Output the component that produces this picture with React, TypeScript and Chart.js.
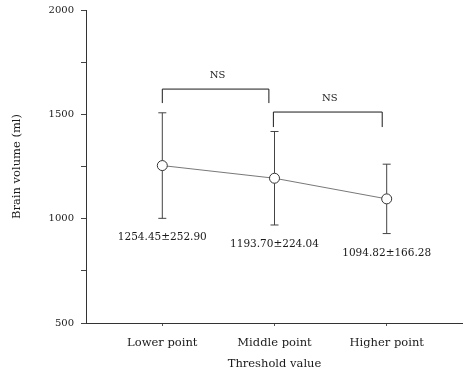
import React, { useEffect, useRef } from "react";
import { Chart, registerables } from "chart.js";

Chart.register(...registerables);

const categories = ["Lower point", "Middle point", "Higher point"];
const means = [1254.45, 1193.7, 1094.82];
const sds = [252.9, 224.04, 166.28];
const yTickLabels = [500, 1000, 1500, 2000];
const brackets = [
  { from: 0, to: 0.95, top: 1621, drop: 1554, label: "NS" },
  { from: 0.99, to: 1.96, top: 1511, drop: 1439, label: "NS" },
];

const SERIF = "'DejaVu Serif', 'Liberation Serif', serif";
const INK = "#1a1a1a";

const overlay = {
  id: "overlay",
  afterDatasetsDraw(chart: any) {
    const { ctx } = chart;
    const xs = chart.scales.x;
    const ys = chart.scales.y;
    ctx.save();
    ctx.strokeStyle = "#444";
    ctx.lineWidth = 1;
    means.forEach((m, i) => {
      const x = xs.getPixelForValue(i);
      const yt = ys.getPixelForValue(m + sds[i]);
      const yb = ys.getPixelForValue(m - sds[i]);
      const yc = ys.getPixelForValue(m);
      ctx.beginPath();
      ctx.moveTo(x, yt);
      ctx.lineTo(x, yc - 5);
      ctx.moveTo(x, yc + 5);
      ctx.lineTo(x, yb);
      ctx.moveTo(x - 4, yt);
      ctx.lineTo(x + 4, yt);
      ctx.moveTo(x - 4, yb);
      ctx.lineTo(x + 4, yb);
      ctx.stroke();
      ctx.fillStyle = INK;
      ctx.font = "10.5px " + SERIF;
      ctx.textAlign = "center";
      ctx.textBaseline = "top";
      ctx.fillText(m.toFixed(2) + "\u00B1" + sds[i].toFixed(2), x, yb + 14);
    });
    ctx.strokeStyle = INK;
    brackets.forEach((b) => {
      const x1 = xs.getPixelForValue(b.from);
      const x2 = xs.getPixelForValue(b.to);
      const yt = ys.getPixelForValue(b.top);
      const yd = ys.getPixelForValue(b.drop);
      ctx.beginPath();
      ctx.moveTo(x1, yd);
      ctx.lineTo(x1, yt);
      ctx.lineTo(x2, yt);
      ctx.lineTo(x2, yd);
      ctx.stroke();
      ctx.fillStyle = INK;
      ctx.font = "10px " + SERIF;
      ctx.textAlign = "center";
      ctx.textBaseline = "middle";
      ctx.fillText(b.label, (x1 + x2) / 2 + 2, yt - 14);
    });
    ctx.restore();
  },
};

export default function App() {
  const ref = useRef<HTMLCanvasElement | null>(null);
  useEffect(() => {
    if (!ref.current) return;
    const chart = new Chart(ref.current, {
      type: "line",
      data: {
        datasets: [
          {
            data: means.map((m, i) => ({ x: i, y: m })),
            borderColor: "#555",
            borderWidth: 0.8,
            pointRadius: 5,
            pointBackgroundColor: "#fff",
            pointBorderColor: "#333",
            pointBorderWidth: 1,
            tension: 0,
          },
        ],
      },
      options: {
        animation: false,
        responsive: false,
        devicePixelRatio: 1,
        layout: { autoPadding: false, padding: { top: 10, right: 0, left: 10, bottom: 0 } },
        plugins: { legend: { display: false }, tooltip: { enabled: false } },
        scales: {
          x: {
            type: "linear",
            min: -0.68,
            max: 2.68,
            afterBuildTicks: (s: any) => {
              s.ticks = categories.map((_, i) => ({ value: i }));
            },
            afterFit: (s: any) => {
              s.height = 51;
              s.paddingLeft = 0;
              s.paddingRight = 0;
            },
            ticks: {
              callback: (v: any) => categories[v] ?? "",
              color: INK,
              font: { family: SERIF, size: 11.5 },
              padding: 10,
              maxRotation: 0,
              autoSkip: false,
            },
            grid: {
              drawOnChartArea: false,
              drawTicks: true,
              tickLength: 3,
              color: "#555",
            },
            border: { color: "#333", width: 1 },
            title: {
              display: true,
              text: "Threshold value",
              color: INK,
              font: { family: SERIF, size: 11.5 },
              padding: { top: 0, bottom: 3 },
            },
          },
          y: {
            type: "linear",
            min: 500,
            max: 2000,
            afterBuildTicks: (s: any) => {
              const t = [];
              for (let v = 500; v <= 2000; v += 250) t.push({ value: v });
              s.ticks = t;
            },
            afterFit: (s: any) => {
              s.width = 76;
              s.paddingTop = 0;
              s.paddingBottom = 0;
            },
            ticks: {
              callback: (v: any) => (yTickLabels.includes(v) ? String(v) : ""),
              color: INK,
              font: { family: SERIF, size: 10 },
              padding: 7,
              autoSkip: false,
            },
            grid: {
              drawOnChartArea: false,
              drawTicks: true,
              tickLength: 5,
              color: "#444",
            },
            border: { color: "#333", width: 1 },
            title: {
              display: true,
              text: "Brain volume (ml)",
              color: INK,
              font: { family: SERIF, size: 11.5 },
              padding: { top: 0, bottom: 0 },
            },
          },
        },
      },
      plugins: [overlay],
    });
    return () => chart.destroy();
  }, []);
  return (
    <div style={{ position: "fixed", left: 0, top: 0, width: 463, height: 374, background: "#fff" }}>
      <canvas ref={ref} width={463} height={374} style={{ width: 463, height: 374 }} />
    </div>
  );
}
